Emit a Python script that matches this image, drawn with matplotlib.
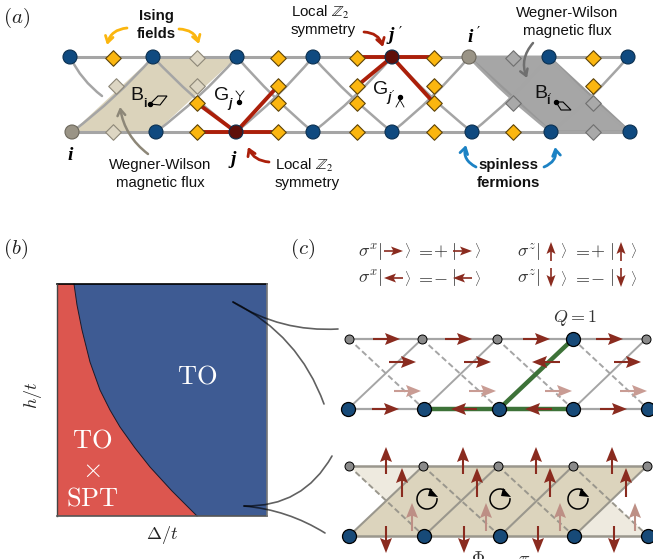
import numpy as np
import matplotlib
matplotlib.use("Agg")
import matplotlib.pyplot as plt
from matplotlib.patches import Polygon, FancyArrowPatch, Arc, Rectangle

plt.rcParams['font.family'] = ['Liberation Sans', 'DejaVu Sans']
plt.rcParams['mathtext.fontset'] = 'cm'

# ---------- panel (a) ----------
A_TOP, A_BOT = 57, 132
a_top_sites = [70, 153, 237, 313, 392, 469, 549, 628]
a_bot_sites = [72, 156, 236, 313, 392, 472, 551, 630]
a_top_colors = ['b', 'b', 'b', 'b', 'r', 'g', 'b', 'b']
a_bot_colors = ['g', 'b', 'r', 'b', 'b', 'b', 'b', 'b']
a_diam_x = [113, 197, 278, 357, 434, 513, 593]
a_diam_top = ['y', 'c', 'y', 'y', 'y', 'k', 'y']
a_diam_bot = ['c', 'y', 'y', 'y', 'y', 'y', 'k']
a_diam_up = [(116, 'c'), (197, 'c'), (278, 'y'), (357, 'y'), (434, 'y'), (593, 'y')]
a_diam_dn = [(197, 'y'), (278, 'y'), (357, 'y'), (434, 'y'), (513, 'k'), (593, 'k')]
A_UP_Y, A_DN_Y = 86, 103
beige_plaq = [(72, 132), (153, 57), (237, 57), (156, 132)]
gray_plaq = [(469, 57), (549, 57), (630, 132), (551, 132)]
red_edges_j = [((236, 132), (197, 132)), ((236, 132), (278, 132)),
               ((236, 132), (197, 103)), ((236, 132), (278, 86))]
red_edges_jp = [((392, 57), (357, 57)), ((392, 57), (434, 57)),
                ((392, 57), (357, 86)), ((392, 57), (434, 103))]

# ---------- panel (b) ----------
box_b = (57, 284, 267, 516)
boundary_x = [74, 77, 82, 90, 100, 110, 120, 135, 150, 172, 197]
boundary_y = [284, 305, 330, 362, 390, 410, 427, 448, 467, 491, 516]

# ---------- panel (c) ----------
C1_TOP, C1_BOT = 339, 409
c1_top = [349, 422, 497, 573, 646]
c1_bot = [348, 424, 499, 573, 648]
c1_top_big = [False, False, False, True, False]
c1_arrows_top = [(373, 400), (445, 472), (523, 550), (596, 623)]
c1_arrows_bot = [(372, 399), (477, 451), (552, 525), (600, 627)]
c1_arrows_mid = [(389, 416), (464, 491), (560, 532), (614, 641)]
c1_arrows_pale = [(394, 421), (469, 496), (545, 572), (620, 647)]
C1_MID, C1_PALE = 362, 391
C2_TOP, C2_BOT = 466, 536
c2_top = [349, 423, 498, 573, 647]
c2_bot = [349, 424, 500, 574, 648]
c2_up_top = [386, 463, 536, 612]
c2_dn_bot = [386, 464, 538, 614]
c2_up_mid = [402, 477, 550, 626]
c2_up_pale = [412, 486, 560, 635]
c2_flux_x = [427, 500, 578]
FLUX_Y = 499

BLUE = '#0f4a80'; YEL = '#fbb60f'; RED = '#ab1f0a'; DRED = '#5f0f0a'
BEI = '#dbd3bb'; GR = '#a6a6a6'; NODEG = '#9a9486'
ARR = '#8a2b1f'; PALE = '#c99c94'; CBLUE = '#174a78'; LINE = '#a5a5a5'

fig = plt.figure(figsize=(6.53, 5.59), dpi=100)
ax = fig.add_axes([0, 0, 1, 1])
ax.set_xlim(0, 653); ax.set_ylim(559, 0); ax.axis('off')
S = lambda px: (px * 0.72) ** 2  # scatter size from px diameter


def curve(p, q, rad, color, lw, z=2, style='-', head=None, ms=1, alpha=None):
    a = FancyArrowPatch(p, q, connectionstyle=f'arc3,rad={rad}',
                        arrowstyle=head or '-', color=color, lw=lw, zorder=z,
                        linestyle=style, shrinkA=0, shrinkB=0, mutation_scale=ms,
                        capstyle='round', alpha=alpha)
    ax.add_patch(a)


def straight_arrow(p, q, color, z=6, hl=15, hw=6, lw=1.5):
    p = np.array(p, float); q = np.array(q, float)
    d = (q - p) / np.hypot(*(q - p)); n = np.array([-d[1], d[0]])
    base = q - d * hl
    ax.plot([p[0], base[0] + d[0] * 3], [p[1], base[1] + d[1] * 3], color=color, lw=lw,
            zorder=z, solid_capstyle='butt')
    ax.add_patch(Polygon([q, base + n * hw, base + d * 2.5, base - n * hw], closed=True,
                         fc=color, ec='none', zorder=z))


def bent_arrow(p, q, rad, color, lw=2.0):
    curve(p, q, rad, color, lw, z=7,
          head='->,head_length=4.5,head_width=2.8', ms=1)


# ---- panel (a)
ax.add_patch(Polygon(beige_plaq, fc=BEI, ec='none', zorder=1))
ax.add_patch(Polygon(gray_plaq, fc=GR, ec='#989898', lw=2, zorder=1))
ax.plot([a_top_sites[0], a_top_sites[-1]], [A_TOP, A_TOP], color=LINE, lw=2.2, zorder=2)
ax.plot([a_bot_sites[0], a_bot_sites[-1]], [A_BOT, A_BOT], color=LINE, lw=2.2, zorder=2)
for i in range(7):
    curve((a_bot_sites[i], A_BOT), (a_top_sites[i + 1], A_TOP), 0.05, LINE, 1.8)
    if i:
        curve((a_top_sites[i], A_TOP), (a_bot_sites[i + 1], A_BOT), 0.04, LINE, 1.8)
curve((a_top_sites[0], A_TOP), (102, 96), 0.12, LINE, 1.8)
for a, b in red_edges_j + red_edges_jp:
    ax.plot([a[0], b[0]], [a[1], b[1]], color=RED, lw=2.8, zorder=3, solid_capstyle='round')

dcol = {'y': (YEL, '#5b4208'), 'c': ('#ddd6c3', '#8d8778'), 'k': ('#a9a9a9', '#6f6f6f')}


def diamond(x, y, c):
    ax.scatter([x], [y], marker='D', s=S(11), c=dcol[c][0], edgecolors=dcol[c][1],
               linewidths=0.8, zorder=5)


for x, ct, cb in zip(a_diam_x, a_diam_top, a_diam_bot):
    diamond(x, A_TOP + 1, ct); diamond(x, A_BOT, cb)
for x, c in a_diam_up:
    diamond(x, A_UP_Y, c)
for x, c in a_diam_dn:
    diamond(x, A_DN_Y, c)
ncol = {'b': BLUE, 'g': NODEG, 'r': DRED}
ax.scatter(a_top_sites, [A_TOP] * 8, s=S(14), c=[ncol[c] for c in a_top_colors],
           edgecolors=['#6d685c' if c == 'g' else '#0b3050' for c in a_top_colors], lw=0.8, zorder=6)
ax.scatter(a_bot_sites, [A_BOT] * 8, s=S(14), c=[ncol[c] for c in a_bot_colors],
           edgecolors=['#6d685c' if c == 'g' else '#0b3050' for c in a_bot_colors], lw=0.8, zorder=6)

TXT = '#111111'
for x, y, s, w in [(156, 16, 'Ising', 'bold'), (156, 34, 'fields', 'bold'),
                   (508, 165, 'spinless', 'bold'), (508, 183, 'fermions', 'bold'),
                   (160, 165, 'Wegner-Wilson', 'normal'), (160, 183, 'magnetic flux', 'normal'),
                   (567, 13, 'Wegner-Wilson', 'normal'), (567, 31, 'magnetic flux', 'normal')]:
    ax.text(x, y, s, ha='center', va='center', fontsize=10.8, weight=w, color=TXT, zorder=8)
for x, y in [(291, 12), (275, 165)]:
    ax.text(x, y, r'Local $\mathbb{Z}_2$', ha='left', va='center', fontsize=10.8, color=TXT,
            math_fontfamily='stix', zorder=8)
    ax.text(x, y + 18, 'symmetry', ha='left', va='center', fontsize=10.8, color=TXT, zorder=8)
SER = ['Liberation Serif']
for x, y, s in [(70, 155, 'i'), (233, 160, 'j'), (391, 36, 'j'), (470, 37, 'i')]:
    ax.text(x, y, s, ha='center', va='center', fontsize=14, weight='bold', style='italic',
            family=SER, color='black', zorder=8)
for x, y in [(400, 31), (478, 31)]:
    ax.text(x, y, '′', ha='center', va='center', fontsize=10, family=['DejaVu Sans'], color='black', zorder=8)
bent_arrow((127, 28), (107, 45), 0.35, YEL)
bent_arrow((179, 29), (199, 44), -0.35, YEL)
bent_arrow((364, 32), (383, 47), -0.35, RED)
bent_arrow((269, 162), (248, 147), -0.3, RED)
bent_arrow((148, 154), (120, 107), -0.2, '#8d8778', 1.8)
bent_arrow((533, 43), (527, 78), 0.3, '#6f6f6f', 1.8)
bent_arrow((476, 167), (466, 145), -0.4, '#1c82c4')
bent_arrow((544, 167), (555, 147), 0.4, '#1c82c4')

# labels B, G and small glyphs
ax.text(130, 95, 'B', fontsize=14, va='center', color=TXT, zorder=8)
ax.text(143, 104, 'i', fontsize=9, weight='bold', va='center', color=TXT, zorder=8)
ax.add_patch(Polygon([(150, 104), (158, 96), (167, 96), (160, 105)], fc='none', ec='black', lw=0.8, zorder=8))
ax.scatter([150], [104], s=S(4), c='k', zorder=9)
ax.text(214, 95, 'G', fontsize=14, va='center', color=TXT, zorder=8)
ax.text(228, 104, 'j', fontsize=9, weight='bold', style='italic', va='center', color=TXT, zorder=8)
ax.plot([239, 240, 236], [102, 96, 91], color='k', lw=0.6, zorder=8)
ax.plot([240, 244], [96, 91], color='k', lw=0.6, zorder=8)
ax.scatter([239], [102], s=S(4), c='k', zorder=9)
ax.text(373, 89, 'G', fontsize=14, va='center', color=TXT, zorder=8)
ax.text(387, 98, 'j', fontsize=9, weight='bold', style='italic', va='center', color=TXT, zorder=8)
ax.text(392, 95, '′', fontsize=7, va='center', family=['DejaVu Sans'], color=TXT, zorder=8)
ax.plot([400, 400, 396], [97, 100, 107], color='k', lw=0.6, zorder=8)
ax.plot([400, 404], [100, 107], color='k', lw=0.6, zorder=8)
ax.scatter([400], [97], s=S(4), c='k', zorder=9)
ax.text(534, 93, 'B', fontsize=14, va='center', color=TXT, zorder=8)
ax.text(546, 101, 'i', fontsize=9, weight='bold', va='center', color=TXT, zorder=8)
ax.text(549, 98, '′', fontsize=7, va='center', family=['DejaVu Sans'], color=TXT, zorder=8)
ax.add_patch(Polygon([(556, 102), (563, 102), (571, 110), (561, 110)], fc='none', ec='black', lw=0.8, zorder=8))
ax.scatter([556], [102], s=S(4), c='k', zorder=9)

# panel letters
for x, y, s in [(3, 18, 'a'), (3, 249, 'b'), (290, 249, 'c')]:
    ax.text(x, y, rf'$({s})$', fontsize=15, va='center', color='#222222')

# ---- panel (b)
x0, y0, x1, y1 = box_b
ax.add_patch(Polygon([(x0, y0), (x1, y0), (x1, y1), (x0, y1)], fc='#3e5b93', ec='none', zorder=1))
ax.add_patch(Polygon([(x0, y0)] + list(zip(boundary_x, boundary_y)) + [(x0, y1)],
                     fc='#dc564f', ec='none', zorder=1))
ax.plot(boundary_x, boundary_y, color='#1a1a2a', lw=0.7, zorder=2)
ax.plot([x0, x1], [y0, y0], color='black', lw=1.2, zorder=3)
ax.plot([x0, x0], [y0, y1], color='#444444', lw=1, zorder=3)
ax.plot([x0, x1], [y1, y1], color='#555555', lw=1.2, zorder=3)
ax.plot([x1, x1], [y0, y1], color='#777777', lw=1.2, zorder=3)
ax.text(197, 377, r'$\mathrm{TO}$', color='white', fontsize=19, ha='center', va='center', zorder=4)
ax.text(92, 440, r'$\mathrm{TO}$', color='white', fontsize=19, ha='center', va='center', zorder=4)
ax.text(91, 470, r'$\times$', color='white', fontsize=19, ha='center', va='center', zorder=4)
ax.text(92, 499, r'$\mathrm{SPT}$', color='white', fontsize=19, ha='center', va='center', zorder=4)
ax.text(33, 395, r'$h/t$', rotation=90, fontsize=13, ha='center', va='center', color='#222222')
ax.text(162, 535, r'$\Delta/t$', fontsize=13, ha='center', va='center', color='#222222')

curve((233, 302), (338, 329), 0.16, 'black', 1.2, z=4, alpha=0.62)
curve((233, 302), (324, 404), -0.2, 'black', 1.2, z=4, alpha=0.62)
curve((244, 506), (332, 456), 0.3, 'black', 1.2, z=4, alpha=0.62)
curve((244, 506), (325, 533), -0.12, 'black', 1.2, z=4, alpha=0.62)

# ---- equations
FS = 13
G = '#333333'
for y, sx, sign in [(251, 1, '+'), (278, -1, '-')]:
    ax.text(358, y, r'$\sigma^x|$', fontsize=FS, va='center', color=G)
    ax.text(517, y, r'$\sigma^z|$', fontsize=FS, va='center', color=G)
    for xk in (404, 474, 560, 630):
        ax.text(xk, y, r'$\rangle$', fontsize=FS * 0.72, va='center', color=G)
    for xe, xs, xb in [(415, 433, 451), (572, 590, 609)]:
        ax.text(xe, y, r'$=$', fontsize=FS, va='center', color=G)
        ax.text(xs, y, rf'${sign}$', fontsize=FS, va='center', color=G)
        ax.text(xb, y, r'$|$', fontsize=FS, va='center', color=G)
    for xa, xb in [(384, 403), (453, 472)]:
        a, b = (xa, xb) if sx > 0 else (xb, xa)
        straight_arrow((a, y), (b, y), ARR, hl=12, hw=4.5, lw=1.2)
    for xc in (551, 621):
        a, b = (y + 10, y - 9) if sx > 0 else (y - 10, y + 9)
        straight_arrow((xc, a), (xc, b), ARR, hl=12, hw=4.5, lw=1.2)
ax.text(575, 318, r'$Q=1$', fontsize=13, ha='center', va='center', color=G)

# ---- panel (c), upper ladder
ax.plot([c1_top[0], c1_top[-1]], [C1_TOP, C1_TOP], color=LINE, lw=1.6, zorder=2)
ax.plot([c1_bot[0], c1_bot[-1]], [C1_BOT, C1_BOT], color=LINE, lw=1.6, zorder=2)
for i in range(4):
    ax.plot([c1_bot[i], c1_top[i + 1]], [C1_BOT, C1_TOP], color=LINE, lw=1.4, zorder=2)
    ax.plot([c1_top[i], c1_bot[i + 1]], [C1_TOP, C1_BOT], color=LINE, lw=1.4, ls=(0, (3, 1.6)), zorder=2)
GREEN = '#3d7238'
ax.plot([c1_bot[1], c1_bot[3]], [C1_BOT, C1_BOT], color=GREEN, lw=3.2, zorder=3)
ax.plot([c1_bot[2], c1_top[3]], [C1_BOT, C1_TOP], color=GREEN, lw=3.2, zorder=3)
ax.scatter(c1_bot, [C1_BOT] * 5, s=S(14), c=CBLUE, edgecolors='black', lw=0.9, zorder=7)
for x, big in zip(c1_top, c1_top_big):
    ax.scatter([x], [C1_TOP], s=S(14 if big else 9), c=CBLUE if big else '#8a8a8a', edgecolors='black',
               lw=0.9 if big else 0.7, zorder=7)
for (a, b) in c1_arrows_top:
    straight_arrow((a, C1_TOP), (b, C1_TOP), ARR)
for (a, b) in c1_arrows_bot:
    straight_arrow((a, C1_BOT), (b, C1_BOT), ARR)
for (a, b) in c1_arrows_mid:
    straight_arrow((a, C1_MID), (b, C1_MID), ARR)
for (a, b) in c1_arrows_pale:
    straight_arrow((a, C1_PALE), (b, C1_PALE), PALE)

# ---- panel (c), lower ladder
ax.add_patch(Polygon([(c2_bot[0], C2_BOT), (c2_top[1], C2_TOP), (c2_top[4], C2_TOP), (c2_bot[3], C2_BOT)],
                     fc='#dcd4bd', ec='none', zorder=1))
xm1 = (c2_top[0] + c2_top[1]) / 2
xm2 = (c2_bot[3] + c2_bot[4]) / 2
ax.add_patch(Polygon([(c2_top[0], C2_TOP), (c2_top[1], C2_TOP), (xm1, 501)], fc='#eeeadf', ec='none', zorder=1))
ax.add_patch(Polygon([(c2_bot[3], C2_BOT), (c2_bot[4], C2_BOT), (xm2, 501)], fc='#eeeadf', ec='none', zorder=1))
EDGE = '#9a978d'
ax.plot([c2_top[0], c2_top[-1]], [C2_TOP, C2_TOP], color=EDGE, lw=1.8, zorder=2)
ax.plot([c2_bot[0], c2_bot[-1]], [C2_BOT, C2_BOT], color=EDGE, lw=1.8, zorder=2)
for i in range(4):
    ax.plot([c2_bot[i], c2_top[i + 1]], [C2_BOT, C2_TOP], color=EDGE, lw=1.5, zorder=2)
    ax.plot([c2_top[i], c2_bot[i + 1]], [C2_TOP, C2_BOT], color=EDGE, lw=1.4, ls=(0, (3, 1.6)), zorder=2)
ax.scatter(c2_bot, [C2_BOT] * 5, s=S(14), c=CBLUE, edgecolors='black', lw=0.9, zorder=7)
ax.scatter(c2_top, [C2_TOP] * 5, s=S(9), c='#8a8a8a', edgecolors='black', lw=0.7, zorder=7)
for x in c2_up_top:
    straight_arrow((x, 474), (x, 447), ARR)
for x in c2_dn_bot:
    straight_arrow((x, 526), (x, 553), ARR)
for x in c2_up_mid:
    straight_arrow((x, 497), (x, 468), ARR)
for x in c2_up_pale:
    straight_arrow((x, 531), (x, 503), '#bd8f85')
for x in c2_flux_x:
    ax.add_patch(Arc((x, FLUX_Y), 20, 20, theta1=-5, theta2=300, color='black', lw=1.1, zorder=8))
    ax.add_patch(Polygon([(x + 3, FLUX_Y - 11), (x + 11, FLUX_Y - 2), (x + 1, FLUX_Y - 3)],
                         fc='black', ec='none', zorder=8))
for x, s in [(478, r'$\Phi$'), (507, r'$=$'), (524, r'$\pi$')]:
    ax.text(x, 564, s, fontsize=13, ha='center', va='baseline', color=G)

fig.savefig('out.png', dpi=100)
